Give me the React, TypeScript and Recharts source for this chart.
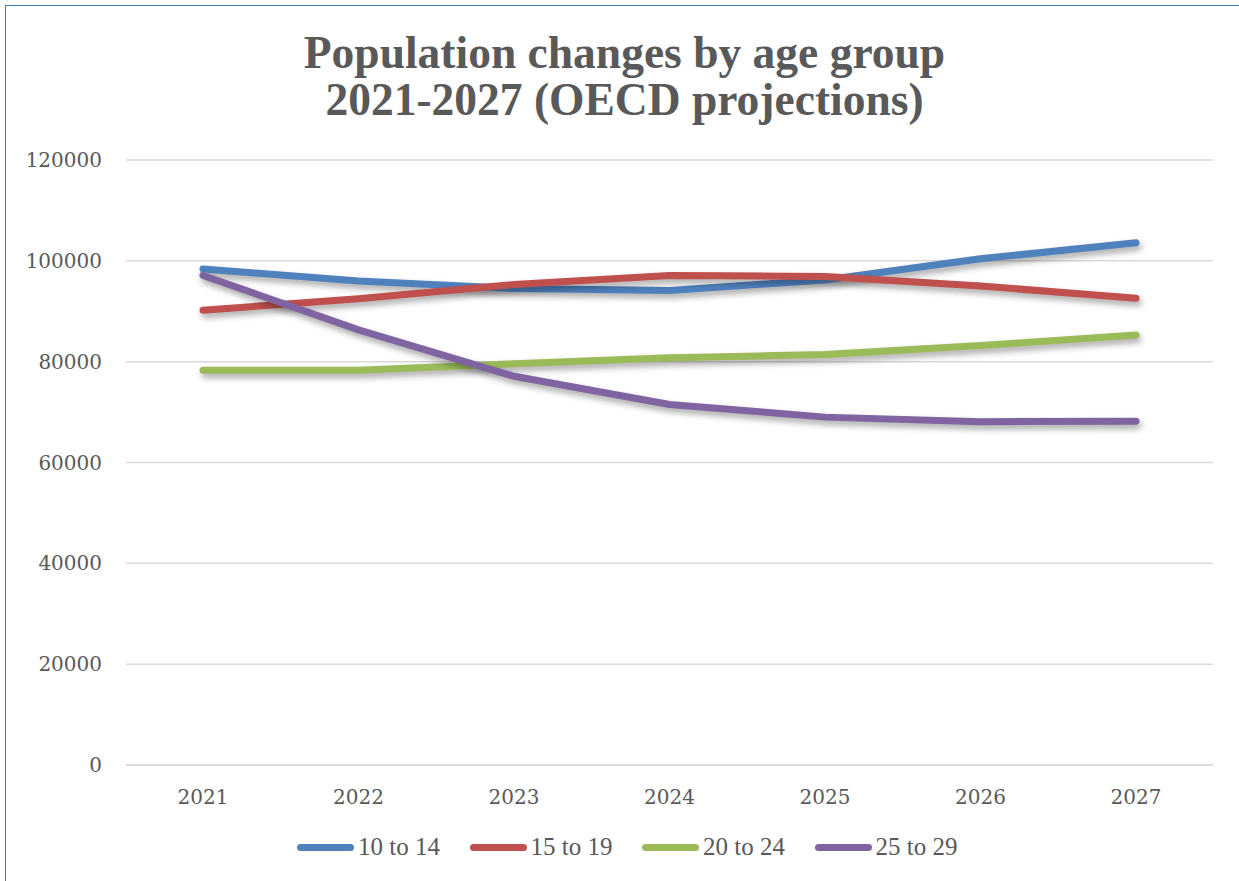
import {LineChart, Line, XAxis, YAxis, CartesianGrid, Legend} from 'recharts';

const years = ['2021', '2022', '2023', '2024', '2025', '2026', '2027'];
const age10to14 = [98400, 96000, 94500, 94100, 96200, 100400, 103600];
const age15to19 = [90200, 92500, 95300, 97100, 96900, 95000, 92600];
const age20to24 = [78300, 78300, 79600, 80800, 81400, 83200, 85300];
const age25to29 = [97100, 86300, 77100, 71500, 69000, 68100, 68200];
const yTicks = [0, 20000, 40000, 60000, 80000, 100000, 120000];

const seriesNames = ['10 to 14', '15 to 19', '20 to 24', '25 to 29'];
const seriesColors = ['#4F81BD', '#C0504D', '#9BBB59', '#8064A2'];

const rows = years.map((y, i) => ({
    year: y,
    s0: age10to14[i],
    s1: age15to19[i],
    s2: age20to24[i],
    s3: age25to29[i],
}));

const serif = "'Liberation Serif', 'DejaVu Serif', serif";
const tickFont = "'DejaVu Serif', serif";
const grey = '#595959';

function LegendBox() {
    return (
        <div style={{display: 'flex', fontFamily: serif, fontSize: 25, lineHeight: '28px', color: grey, paddingLeft: 297}}>
            {seriesNames.map((n, i) => (
                <div key={n} style={{display: 'flex', alignItems: 'center', width: 172.5}}>
                    <div style={{width: 57, height: 7, borderRadius: 4, background: seriesColors[i], marginRight: 4}}/>
                    <span>{n}</span>
                </div>
            ))}
        </div>
    );
}

export default function App() {
    return (
        <div style={{position: 'absolute', left: 0, top: 0, width: 1239, height: 881, background: '#fff', overflow: 'hidden'}}>
            <style>{`.recharts-line-curve { filter: drop-shadow(2px 4px 3px rgba(0,0,0,0.35)); }`}</style>
            <div style={{position: 'absolute', left: 5, top: 5, width: 1260, height: 900, border: '1.5px solid #4a7ebb'}}/>
            <div style={{
                position: 'absolute', left: 0, top: 29, width: 1249, textAlign: 'center',
                fontFamily: serif, fontWeight: 'bold', fontSize: 45.5, lineHeight: '47px', color: grey,
            }}>
                Population changes by age group<br/>2021-2027 (OECD projections)
            </div>
            <div style={{position: 'absolute', left: 0, top: 0}}>
                <LineChart width={1239} height={881} data={rows} margin={{top: 160, right: 26, left: 0, bottom: 0}}>
                    <CartesianGrid stroke="#d9d9d9" strokeWidth={1.5} vertical={false}/>
                    <XAxis dataKey="year" height={88} padding={{left: 77, right: 77}}
                           axisLine={{stroke: '#d9d9d9', strokeWidth: 1.5}} tickLine={false}
                           tickMargin={19} tick={{fill: grey, fontSize: 20, fontFamily: tickFont}}/>
                    <YAxis width={126} domain={[0, 120000]} ticks={yTicks} axisLine={false} tickLine={false}
                           tickMargin={18} tick={{fill: grey, fontSize: 20, fontFamily: tickFont}}/>
                    {seriesNames.map((n, i) => (
                        <Line key={n} dataKey={'s' + i} name={n} type="linear" stroke={seriesColors[i]} strokeWidth={7}
                              strokeLinecap="round" strokeLinejoin="round" dot={false} activeDot={false}
                              isAnimationActive={false}/>
                    ))}
                    <Legend content={<LegendBox/>} wrapperStyle={{top: 833, left: 0, width: 1239}}/>
                </LineChart>
            </div>
        </div>
    );
}
